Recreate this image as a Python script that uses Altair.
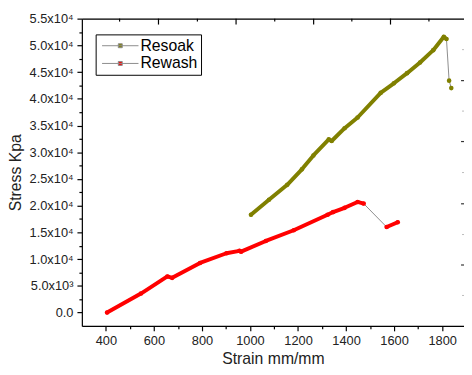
import altair as alt
import pandas as pd

series_names = ["Resoak", "Rewash"]
series_colors = ["#808000", "#ff0000"]

# Resoak (strain mm/mm, stress Kpa); seg 0 = isolated points after the break
resoak_strain = [1004, 1079, 1155, 1216, 1264, 1328, 1340, 1394, 1448, 1544, 1599, 1654, 1708, 1763, 1807, 1818, 1829, 1838]
resoak_stress = [18300, 21100, 23900, 26800, 29400, 32400, 32100, 34500, 36500, 41100, 42900, 44800, 46800, 49100, 51600, 51200, 43400, 42000]
resoak_seg = [1, 1, 1, 1, 1, 1, 1, 1, 1, 1, 1, 1, 1, 1, 1, 1, 0, 0]

# Rewash
rewash_strain = [405, 546, 656, 676, 792, 902, 956, 963, 1066, 1182, 1323, 1346, 1394, 1448, 1473, 1569, 1615]
rewash_stress = [0, 3560, 6760, 6500, 9280, 11100, 11550, 11400, 13400, 15400, 18300, 18800, 19600, 20700, 20400, 16000, 16900]
rewash_seg = [1, 1, 1, 1, 1, 1, 1, 1, 1, 1, 1, 1, 1, 1, 1, 2, 2]

# axis ticks
x_ticks = [400, 500, 600, 700, 800, 900, 1000, 1100, 1200, 1300, 1400, 1500, 1600, 1700, 1800]
y_ticks = [v * 2500 for v in range(0, 23)]
top_major = [619, 942, 1265, 1585]
top_minor = [457, 781, 1103, 1424, 1745]
right_major = [43400, 32000, 20350, 8900]
right_minor = [49200, 37700, 26200, 14600, 3200]

rows = []
for n, xs, ys, sg in [("Resoak", resoak_strain, resoak_stress, resoak_seg),
                      ("Rewash", rewash_strain, rewash_stress, rewash_seg)]:
    for i, (a, b, s) in enumerate(zip(xs, ys, sg)):
        rows.append({"series": n, "strain": a, "stress": b, "seg": f"{n}-{s}", "solid": s > 0, "order": i})
df = pd.DataFrame(rows)

W, H = 388, 312
FONT = "Liberation Sans"
xscale = alt.Scale(domain=[300, 1891], nice=False, zero=False)
yscale = alt.Scale(domain=[-2500, 55000], nice=False, zero=False)
cscale = alt.Scale(domain=series_names, range=series_colors)

y_label_expr = ("datum.value == 0 ? '0.0' : (datum.value % 5000 != 0 ? '' : "
                "(datum.value < 10000 ? format(datum.value/1000, '.1f') + 'x10\u00b3' : "
                "format(datum.value/10000, '.1f') + 'x10\u2074'))")

x_axis = alt.Axis(values=x_ticks, labelExpr="datum.value % 200 == 0 ? datum.value : ''",
                  title="Strain mm/mm", grid=False, domainColor="black", domainWidth=1.2,
                  tickColor="black", tickWidth=1.2,
                  tickSize={"condition": {"test": "datum.value % 200 == 0", "value": 5}, "value": 3},
                  labelFont=FONT, labelFontSize=13, labelColor="#222", labelPadding=4,
                  titleFont=FONT, titleFontSize=16, titleFontWeight="normal", titleColor="#222",
                  titlePadding=3, orient="bottom")
y_axis = alt.Axis(values=y_ticks, labelExpr=y_label_expr, title="Stress Kpa", grid=False,
                  domainColor="black", domainWidth=1.2, tickColor="black", tickWidth=1.2,
                  tickSize={"condition": {"test": "datum.value % 5000 == 0", "value": 5}, "value": 3},
                  labelFont=FONT, labelFontSize=13, labelColor="#222", labelPadding=4,
                  titleFont=FONT, titleFontSize=16, titleFontWeight="normal", titleColor="#222",
                  titlePadding=6, orient="left")

legend = alt.Legend(orient="none", legendX=14, legendY=16, title=None,
                    strokeColor="black", fillColor="white", padding=3.5, rowPadding=2,
                    symbolType="M-1,0H6.4M2.3,-0.4H3.1V0.4H2.3Z", symbolSize=100,
                    symbolStrokeColor="#8c8c8c", symbolStrokeWidth=1,
                    labelFont=FONT, labelFontSize=16, labelColor="black", labelOffset=26)

Y = alt.Y("stress:Q", scale=yscale, axis=y_axis, title="Stress Kpa")

base = alt.Chart(df)

grey = base.mark_line(color="#8c8c8c", strokeWidth=1).encode(
    x=alt.X("strain:Q", scale=xscale, axis=x_axis),
    y=Y,
    detail="series:N",
    order="order:Q",
)

thick_layers = []
for name, col in zip(series_names, series_colors):
    thick_layers.append(
        base.transform_filter(f"datum.solid && datum.series == '{name}'").mark_line(
            strokeWidth=4, strokeCap="round", strokeJoin="round", color=col).encode(
            x=alt.X("strain:Q", scale=xscale, axis=None),
            y=Y,
            detail="seg:N",
            order="order:Q",
        )
    )

pts = base.mark_point(filled=True, size=22, shape="circle", opacity=1).encode(
    x=alt.X("strain:Q", scale=xscale, axis=None),
    y=Y,
    color=alt.Color("series:N", scale=cscale, legend=legend),
)

top_df = pd.DataFrame({"v": top_major + top_minor, "major": [True] * len(top_major) + [False] * len(top_minor)})
top_axis = alt.Axis(orient="top", domain=True, domainColor="black", domainWidth=1.2,
                    ticks=False, labels=False, title=None, grid=False)
top_major_rules = alt.Chart(top_df).transform_filter("datum.major").mark_rule(color="black", strokeWidth=1.2).encode(
    x=alt.X("v:Q", scale=xscale, axis=top_axis),
    y=alt.value(0), y2=alt.value(6),
)
top_minor_rules = alt.Chart(top_df).transform_filter("!datum.major").mark_rule(color="black", strokeWidth=1.2).encode(
    x=alt.X("v:Q", scale=xscale, axis=None),
    y=alt.value(0), y2=alt.value(3),
)

right_df = pd.DataFrame({"v": right_major + right_minor, "major": [True] * len(right_major) + [False] * len(right_minor)})
YR = alt.Y("v:Q", scale=yscale, axis=y_axis, title="Stress Kpa")
right_major_rules = alt.Chart(right_df).transform_filter("datum.major").mark_rule(color="#333", strokeWidth=1.2).encode(
    y=YR, x=alt.value(W - 3), x2=alt.value(W),
)
right_minor_rules = alt.Chart(right_df).transform_filter("!datum.major").mark_rule(color="#bbb", strokeWidth=1).encode(
    y=YR, x=alt.value(W - 2), x2=alt.value(W),
)

chart = alt.layer(
    grey, *thick_layers, pts, top_major_rules, top_minor_rules, right_major_rules, right_minor_rules
).resolve_axis(x="independent").properties(
    width=W, height=H,
    autosize=alt.AutoSizeParams(type="none"),
    padding={"left": 75, "top": 8, "right": 0, "bottom": 45},
).configure_view(stroke=None).configure(background="white")

chart.save("out.html", embed_options={"renderer": "svg", "actions": False})
